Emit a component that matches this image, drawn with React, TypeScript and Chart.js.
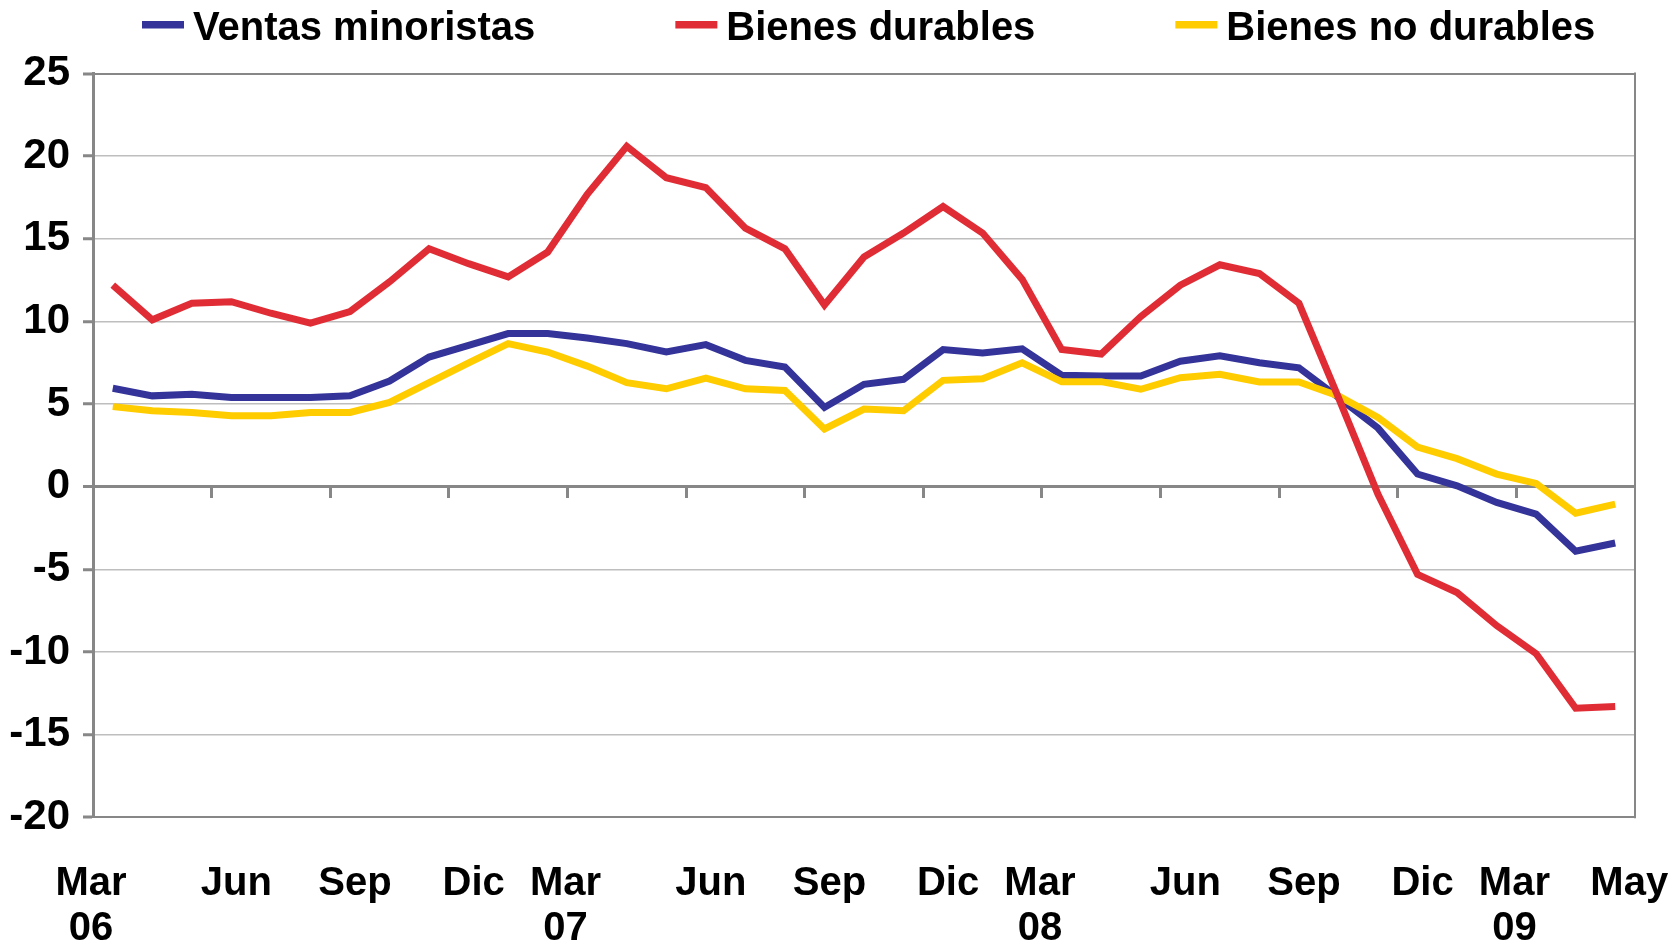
import React, { useEffect, useRef } from 'react';
import { Chart, registerables } from 'chart.js';

Chart.register(...registerables);

const months: string[] = [
  'Mar 06', 'Abr 06', 'May 06', 'Jun 06', 'Jul 06', 'Ago 06', 'Sep 06', 'Oct 06', 'Nov 06', 'Dic 06',
  'Ene 07', 'Feb 07', 'Mar 07', 'Abr 07', 'May 07', 'Jun 07', 'Jul 07', 'Ago 07', 'Sep 07', 'Oct 07',
  'Nov 07', 'Dic 07', 'Ene 08', 'Feb 08', 'Mar 08', 'Abr 08', 'May 08', 'Jun 08', 'Jul 08', 'Ago 08',
  'Sep 08', 'Oct 08', 'Nov 08', 'Dic 08', 'Ene 09', 'Feb 09', 'Mar 09', 'Abr 09', 'May 09',
];

const ventasMinoristas: number[] = [
  5.96, 5.5, 5.6, 5.4, 5.4, 5.4, 5.5, 6.4, 7.85, 8.55,
  9.27, 9.27, 9.0, 8.66, 8.16, 8.6, 7.65, 7.25, 4.8, 6.2,
  6.5, 8.3, 8.1, 8.35, 6.75, 6.7, 6.7, 7.6, 7.93, 7.5,
  7.2, 5.4, 3.55, 0.77, 0.06, -0.95, -1.66, -3.9, -3.4,
];

const bienesDurables: number[] = [
  12.2, 10.1, 11.1, 11.2, 10.5, 9.9, 10.6, 12.4, 14.4, 13.5,
  12.7, 14.2, 17.7, 20.6, 18.7, 18.1, 15.65, 14.4, 11.0, 13.9,
  15.35, 16.96, 15.35, 12.55, 8.3, 8.03, 10.3, 12.2, 13.43, 12.9,
  11.1, 5.4, -0.45, -5.3, -6.4, -8.4, -10.1, -13.4, -13.3,
];

const bienesNoDurables: number[] = [
  4.85, 4.6, 4.5, 4.3, 4.3, 4.5, 4.5, 5.1, 6.3, 7.5,
  8.66, 8.15, 7.3, 6.3, 5.93, 6.58, 5.93, 5.83, 3.5, 4.7,
  4.6, 6.44, 6.54, 7.5, 6.36, 6.36, 5.9, 6.6, 6.8, 6.34,
  6.34, 5.5, 4.2, 2.4, 1.7, 0.77, 0.2, -1.6, -1.05,
];

const seriesNames: string[] = ['Ventas minoristas', 'Bienes durables', 'Bienes no durables'];
const seriesColors: string[] = ['#333399', '#E02D35', '#FFCC00'];

const xLabelIndex: number[] = [0, 3, 6, 9, 12, 15, 18, 21, 24, 27, 30, 33, 36, 38];
const xLabelText: string[] = [
  'Mar\n06', 'Jun', 'Sep', 'Dic', 'Mar\n07', 'Jun', 'Sep', 'Dic', 'Mar\n08', 'Jun', 'Sep', 'Dic', 'Mar\n09', 'May',
];

const FONT_FAMILY = '"Liberation Sans", Arial, Helvetica, sans-serif';
const AXIS_GRAY = '#878787';

const decorPlugin = {
  id: 'decor',
  beforeDatasetsDraw(chart: any) {
    const { ctx, chartArea } = chart;
    ctx.save();
    ctx.strokeStyle = AXIS_GRAY;
    ctx.lineWidth = 2;
    ctx.beginPath();
    ctx.moveTo(chartArea.right, chartArea.top - 1);
    ctx.lineTo(chartArea.right, chartArea.bottom + 1);
    ctx.stroke();
    ctx.restore();
  },
  afterDraw(chart: any) {
    const { ctx } = chart;
    const xs = chart.scales.x;
    ctx.save();
    ctx.font = 'bold 40px ' + FONT_FAMILY;
    ctx.fillStyle = '#000000';
    ctx.textBaseline = 'alphabetic';

    // x labels
    const cw = xs.getPixelForValue(1) - xs.getPixelForValue(0);
    ctx.textAlign = 'center';
    xLabelIndex.forEach((idx, k) => {
      const text = xLabelText[k];
      const lines = text.split('\n');
      let x = xs.getPixelForValue(idx);
      if (lines.length > 1) x = x - cw / 2 - 2;
      else if (k === xLabelIndex.length - 1) x = x + 14;
      else x = x + 5;
      lines.forEach((ln, li) => {
        ctx.fillText(ln, x, 895 + li * 45);
      });
    });

    // legend
    ctx.textAlign = 'left';
    let lx = 142;
    chart.data.datasets.forEach((ds: any) => {
      ctx.fillStyle = ds.borderColor;
      ctx.fillRect(lx, 21, 42, 7.5);
      ctx.fillStyle = '#000000';
      const tx = lx + 51;
      ctx.fillText(ds.label, tx, 40);
      lx = tx + ctx.measureText(ds.label).width + 140;
    });
    ctx.restore();
  },
};

export default function App() {
  const canvasRef = useRef<HTMLCanvasElement | null>(null);

  useEffect(() => {
    if (!canvasRef.current) return;
    const chart = new Chart(canvasRef.current, {
      type: 'line',
      data: {
        labels: months,
        datasets: [
          {
            label: seriesNames[0],
            data: ventasMinoristas,
            borderColor: seriesColors[0],
            backgroundColor: seriesColors[0],
            borderWidth: 7,
            pointRadius: 0,
            tension: 0,
            order: 2,
          },
          {
            label: seriesNames[1],
            data: bienesDurables,
            borderColor: seriesColors[1],
            backgroundColor: seriesColors[1],
            borderWidth: 7,
            pointRadius: 0,
            tension: 0,
            order: 0,
          },
          {
            label: seriesNames[2],
            data: bienesNoDurables,
            borderColor: seriesColors[2],
            backgroundColor: seriesColors[2],
            borderWidth: 7,
            pointRadius: 0,
            tension: 0,
            order: 1,
          },
        ],
      },
      options: {
        responsive: false,
        animation: false,
        layout: { padding: { top: 73.6, bottom: 126.7, left: 0, right: 38 } },
        plugins: {
          legend: { display: false },
          title: { display: false },
          tooltip: { enabled: false },
        },
        scales: {
          x: {
            type: 'category',
            position: { y: 0 } as any,
            offset: true,
            grid: {
              offset: true,
              drawOnChartArea: false,
              drawTicks: true,
              tickLength: 10,
              tickWidth: 3,
              tickColor: (c: any) =>
                c.index !== undefined && c.index > 0 && c.index % 3 === 0 ? AXIS_GRAY : 'rgba(0,0,0,0)',
            },
            border: { display: true, color: AXIS_GRAY, width: 3 },
            ticks: { display: false, autoSkip: false },
            afterFit: (s: any) => {
              s.height = 0;
            },
          },
          y: {
            min: -20,
            max: 25,
            ticks: {
              stepSize: 5,
              padding: 13,
              color: '#000000',
              font: { family: FONT_FAMILY, size: 42, weight: 'bold' },
            },
            grid: {
              color: (c: any) => {
                const v = c.tick ? c.tick.value : null;
                if (v === 25 || v === -20) return AXIS_GRAY;
                if (v === 0) return AXIS_GRAY;
                return '#BEBEBE';
              },
              lineWidth: (c: any) => {
                const v = c.tick ? c.tick.value : null;
                if (v === 25 || v === -20) return 2;
                if (v === 0) return 3;
                return 1.5;
              },
              tickColor: AXIS_GRAY,
              tickLength: 10,
              tickWidth: 3,
            },
            border: { display: true, color: AXIS_GRAY, width: 3 },
            afterFit: (s: any) => {
              s.width = 93;
            },
          },
        },
      },
      plugins: [decorPlugin],
    } as any);
    return () => chart.destroy();
  }, []);

  return (
    <div style={{ position: 'fixed', left: 0, top: 0, width: 1673, height: 944, background: '#ffffff' }}>
      <canvas ref={canvasRef} width={1673} height={944} style={{ display: 'block' }} />
    </div>
  );
}
